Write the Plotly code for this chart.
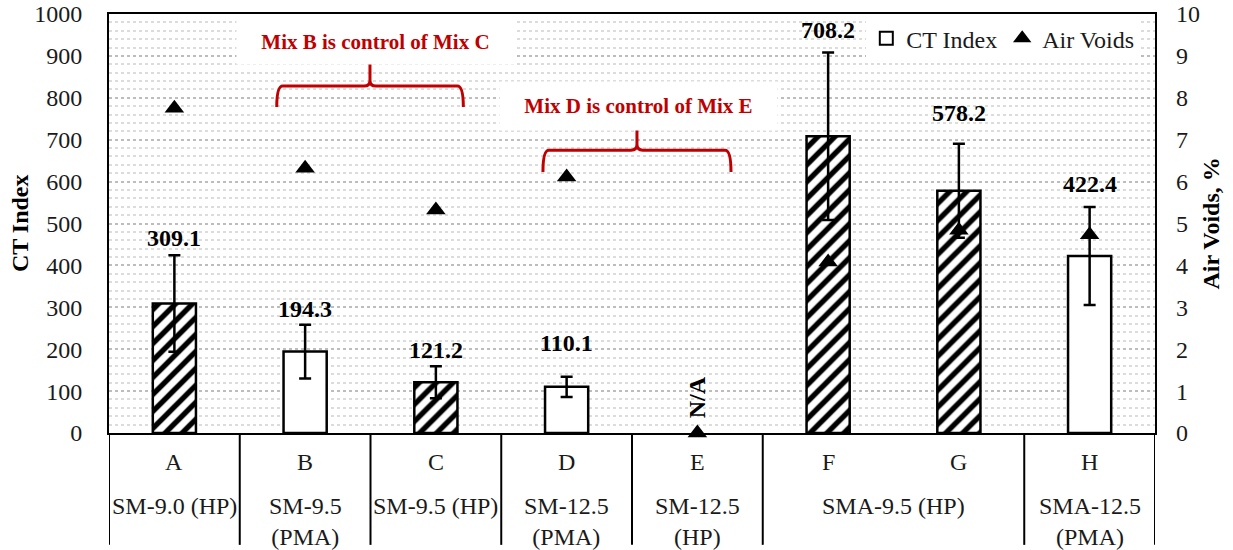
import plotly.graph_objects as go

# ---------------- data ----------------
categories = ["A", "B", "C", "D", "E", "F", "G", "H"]
ct_index = [309.1, 194.3, 121.2, 110.1, None, 708.2, 578.2, 422.4]
ct_error = [115, 64, 38, 24, None, 200, 112, 117]
air_voids = [7.75, 6.32, 5.32, 6.11, 0.0, 4.08, 4.84, 4.73]
hatched = [True, False, True, False, False, True, True, False]
group_names = ["SM-9.0 (HP)", "SM-9.5<br>(PMA)", "SM-9.5 (HP)", "SM-12.5<br>(PMA)",
               "SM-12.5<br>(HP)", "SMA-9.5 (HP)", "SMA-12.5<br>(PMA)"]
group_members = [["A"], ["B"], ["C"], ["D"], ["E"], ["F", "G"], ["H"]]
left_ticks = list(range(0, 1001, 100))
right_ticks = list(range(0, 11, 1))

# styling: pixel offsets of value labels above the error-bar caps
label_shift = [17, 16, 16, 34, 0, 22, 31, 23]

FONT = "Liberation Serif"
RED = "#C00000"
TXT = "#1a1a1a"

xs = list(range(len(categories)))

fig = go.Figure()

fig.add_trace(go.Bar(
    x=xs, y=ct_index, width=0.33, name="CT Index", showlegend=False,
    marker=dict(color="white",
                line=dict(color="black", width=2.5),
                pattern=dict(shape=["/" if h else "" for h in hatched],
                             fgcolor="black", fgopacity=1, bgcolor="white",
                             size=12, solidity=0.45)),
    error_y=dict(type="data", array=ct_error, visible=True, color="black",
                 thickness=2.5, width=6),
    yaxis="y",
))

# legend proxy for CT Index
fig.add_trace(go.Scatter(
    x=[None], y=[None], mode="markers", name="CT Index",
    marker=dict(symbol="square", size=13, color="white", line=dict(color="black", width=2)),
))

fig.add_trace(go.Scatter(
    x=xs, y=air_voids, mode="markers", name="Air Voids", yaxis="y2",
    marker=dict(symbol="triangle-up", size=17, color="black"),
    cliponaxis=False,
))

annotations = []
# data labels
for i, (v, e) in enumerate(zip(ct_index, ct_error)):
    if v is None:
        annotations.append(dict(x=i, y=86, xref="x", yref="y", text="<b>N/A</b>",
                                textangle=-90, showarrow=False,
                                font=dict(family=FONT, size=24, color="black")))
    else:
        annotations.append(dict(x=i, y=v + (e or 0), xref="x", yref="y",
                                text=f"<b>{v:.1f}</b>", showarrow=False,
                                yshift=label_shift[i], yanchor="middle",
                                font=dict(family=FONT, size=24, color="black")))

# category letters
for i, c in enumerate(categories):
    annotations.append(dict(x=i, y=-0.069, xref="x", yref="paper", text=c,
                            showarrow=False, yanchor="middle",
                            font=dict(family=FONT, size=24, color=TXT)))

# group names and separators
shapes = []
boundaries = [-0.5]
for name, members in zip(group_names, group_members):
    idx = [categories.index(m) for m in members]
    xc = sum(idx) / len(idx)
    annotations.append(dict(x=xc, y=-0.139, xref="x", yref="paper", text=name,
                            showarrow=False, yanchor="top",
                            font=dict(family=FONT, size=24, color=TXT)))
    boundaries.append(max(idx) + 0.5)
for b in boundaries:
    shapes.append(dict(type="line", xref="x", yref="paper", x0=b, x1=b, y0=0, y1=-0.267,
                       line=dict(color="black", width=2)))


def brace(x0, x1, xm, yh, yend, ytip, rx=0.045, ry=14):
    return ("M {a},{ye} Q {a},{yh} {a2},{yh} L {m1},{yh} Q {m},{yh} {m},{yr} L {m},{yt} "
            "M {m},{yr} Q {m},{yh} {m2},{yh} L {b2},{yh} Q {b},{yh} {b},{ye}").format(
        a=x0, b=x1, a2=x0 + rx, b2=x1 - rx, m=xm, m1=xm - rx, m2=xm + rx,
        yh=yh, ye=yend, yr=yh + ry, yt=ytip)


shapes.append(dict(type="path", xref="x", yref="y",
                   path=brace(0.783, 2.210, 1.496, 828, 778, 893),
                   line=dict(color=RED, width=3)))
shapes.append(dict(type="path", xref="x", yref="y",
                   path=brace(2.819, 4.257, 3.538, 675, 623, 740),
                   line=dict(color=RED, width=3)))

annotations.append(dict(x=1.54, y=933, xref="x", yref="y", text="<b>Mix B is control of Mix C</b>",
                        showarrow=False, bgcolor="white", width=275, height=42,
                        font=dict(family=FONT, size=21, color=RED)))
annotations.append(dict(x=3.55, y=780, xref="x", yref="y", text="<b>Mix D is control of Mix E</b>",
                        showarrow=False, bgcolor="white", width=275, height=46,
                        font=dict(family=FONT, size=21, color=RED)))

# axis titles
annotations.append(dict(x=-0.0855, y=0.5, xref="paper", yref="paper", text="<b>CT Index</b>",
                        textangle=-90, showarrow=False, xanchor="center", yanchor="middle",
                        font=dict(family=FONT, size=24, color="black")))
annotations.append(dict(x=1.0535, y=0.5, xref="paper", yref="paper", text="<b>Air Voids, %</b>",
                        textangle=-90, showarrow=False, xanchor="center", yanchor="middle",
                        font=dict(family=FONT, size=24, color="black")))

fig.update_layout(
    width=1233, height=550,
    margin=dict(l=109, r=78, t=14, b=117, autoexpand=False),
    paper_bgcolor="white", plot_bgcolor="white",
    font=dict(family=FONT, size=24, color=TXT),
    xaxis=dict(range=[-0.5, 7.5], showticklabels=False, ticks="", showgrid=False,
               automargin=False,
               zeroline=False, showline=True, linecolor="black", linewidth=2, mirror=True),
    yaxis=dict(range=[0, 1000], tickvals=left_ticks, ticks="", ticklabelstandoff=20,
               automargin=False,
               showgrid=True, gridcolor="#BDBDBD", gridwidth=2, griddash="dot",
               minor=dict(tickvals=[v for v in range(0, 1001, 20) if v % 100],
                          showgrid=True, gridcolor="#DCDCDC", gridwidth=2, griddash="dot"),
               zeroline=False, showline=True, linecolor="black", linewidth=2, mirror=True,
               tickfont=dict(family=FONT, size=24, color=TXT)),
    yaxis2=dict(range=[0, 10], tickvals=right_ticks, overlaying="y", side="right",
                automargin=False,
                ticks="", ticklabelstandoff=20, showgrid=False, zeroline=False,
                showline=False, tickfont=dict(family=FONT, size=24, color=TXT)),
    legend=dict(orientation="h", x=0.724, xanchor="left", y=0.995, yanchor="top",
                bgcolor="white", borderwidth=0, itemwidth=30,
                font=dict(family=FONT, size=24, color=TXT)),
    annotations=annotations,
    shapes=shapes,
    bargap=0.5,
)

fig.write_html("out.html")
